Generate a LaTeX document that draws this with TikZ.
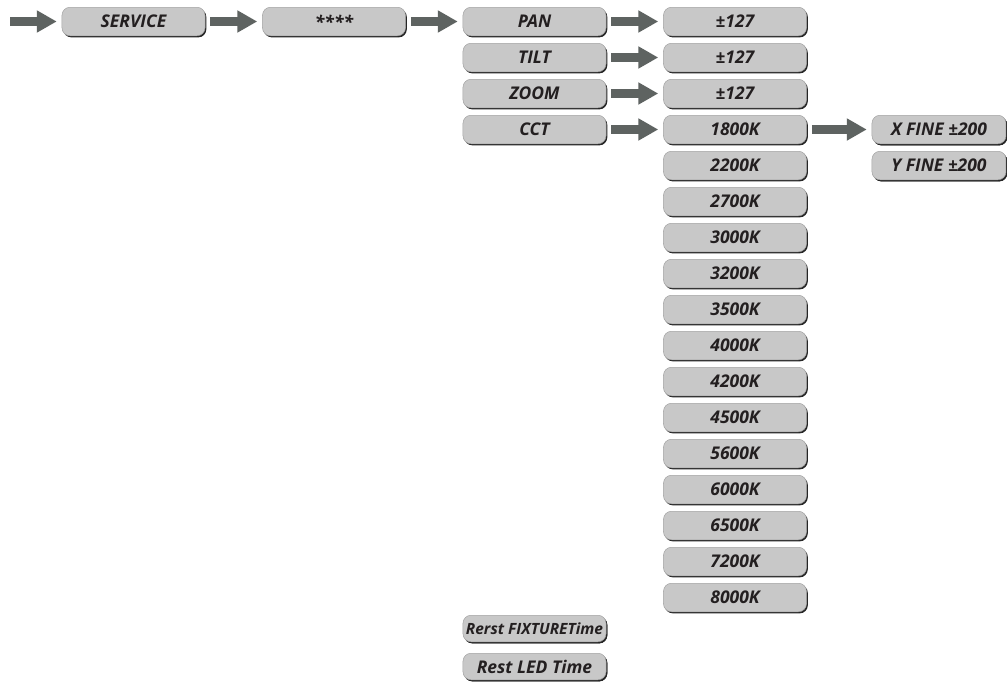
\documentclass[tikz,border=0pt]{standalone}
\usepackage{fontspec}
\setmainfont{Open Sans}
\usetikzlibrary{matrix,arrows.meta,shadows}

\definecolor{boxgray}{HTML}{C8C8C8}
\definecolor{boxline}{HTML}{A3A3A3}
\definecolor{arrowgray}{HTML}{5E6361}
\definecolor{labelink}{HTML}{231F20}

\tikzset{
  menubox/.style={rectangle, rounded corners=8pt, fill=boxgray, draw=boxline, line width=0.5pt,
    drop shadow={shadow xshift=1.3pt, shadow yshift=-1.6pt, fill=black!85, opacity=1},
    minimum width=143pt, minimum height=28.5pt, inner sep=0pt, text=labelink,
    font=\fontsize{17.5}{19}\selectfont\bfseries\itshape},
  finebox/.style={menubox, minimum width=134pt},
  resetbox/.style={menubox, minimum height=26.5pt},
  blockarrow/.style={draw=arrowgray, line width=9pt, -{Triangle[length=20pt,width=21pt]},
    shorten <=5pt, shorten >=5pt}
}

\begin{document}
\begin{tikzpicture}[x=1pt,y=-1pt]
  \useasboundingbox[fill=white] (0,0) rectangle (1007,683);
  \matrix (m) [matrix of nodes, nodes={menubox, anchor=center}, row sep=7pt, column sep=57pt,
               matrix anchor=m-1-1.center] at (133.5,21.5)
  {
     SERVICE & **** & PAN  & ±127  \\
             &      & TILT & ±127  \\
             &      & ZOOM & ±127  \\
             &      & CCT  & 1800K &[8pt] |[finebox]| X FINE ±200 \\
             &      &      & 2200K & |[finebox]| Y FINE ±200 \\
             &      &      & 2700K \\
             &      &      & 3000K \\
             &      &      & 3200K \\
             &      &      & 3500K \\
             &      &      & 4000K \\
             &      &      & 4200K \\
             &      &      & 4500K \\
             &      &      & 5600K \\
             &      &      & 6000K \\
             &      &      & 6500K \\
             &      &      & 7200K \\
             &      &      & 8000K \\[-4pt]
             &      & |[resetbox, font=\fontsize{15.5}{17}\selectfont\bfseries\itshape]| Rerst FIXTURETime \\[4pt]
             &      & |[resetbox]| Rest LED Time \\};
  \coordinate (start) at (10,21.5);
  \path[every edge/.append style={blockarrow}]
    (start) edge[shorten <=0pt] (m-1-1)
    (m-1-1) edge (m-1-2)
    (m-1-2) edge (m-1-3)
    (m-1-3) edge (m-1-4)
    (m-2-3) edge (m-2-4)
    (m-3-3) edge (m-3-4)
    (m-4-3) edge (m-4-4)
    (m-4-4) edge (m-4-5);
\end{tikzpicture}
\end{document}
